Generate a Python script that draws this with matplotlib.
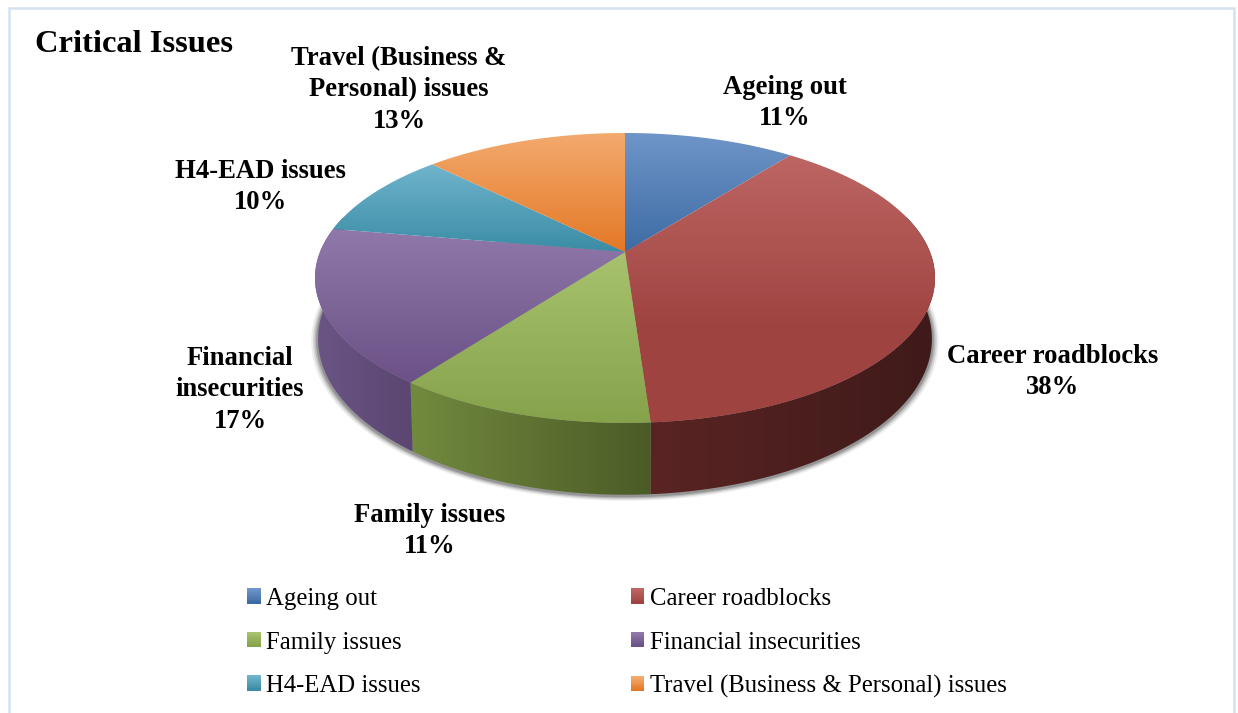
import matplotlib
matplotlib.use('Agg')
from matplotlib.legend_handler import HandlerBase
from matplotlib.patches import Patch, Polygon, Rectangle
import matplotlib.colors as mpcolors
import matplotlib.pyplot as plt
import numpy as np

plt.rcParams['font.family'] = ['Liberation Serif', 'DejaVu Serif']

title = 'Critical Issues'
categories = ['Ageing out', 'Career roadblocks', 'Family issues', 'Financial insecurities',
              'H4-EAD issues', 'Travel (Business & Personal) issues']
# estimated from the slice edges, the labels show them rounded
values = [10.6, 38.3, 11.4, 17.4, 9.7, 12.6]
slice_labels = ['Ageing out', 'Career roadblocks', 'Family issues', 'Financial\ninsecurities',
                'H4-EAD issues', 'Travel (Business &\nPersonal) issues']

# colors: top of the slice, bottom of the slice, side wall left, side wall right
top_light = ['#6f95c8', '#bd6663', '#a8c26e', '#9079aa', '#6fb4cc', '#f3aa6e']
top_dark = ['#3d6ca4', '#9f4341', '#86a24b', '#6b5186', '#3b8ca6', '#e47826']
side_start = ['#3a5578', '#5a2423', '#728a3e', '#6a5586', '#2f6f85', '#b5601f']
side_end = ['#2f4a6c', '#3f1a1a', '#4b5b27', '#5a4670', '#2a6577', '#a5561c']

label_pos = [(785, 103), (1053, 372), (430, 531), (240, 390), (260, 187), (399, 90)]

# projection of the tilted disc, in pixels
cx, cy = 625.0, 252.0
scale_x, scale_y = 305.0, 140.3
persp = 0.179
depth = 59.0


def project(angle, radius=1.0, drop=0.0, shrink=1.0):
    # angle in degrees, clockwise from 12 o'clock
    t = np.radians(angle)
    u, v = radius * np.sin(t), -radius * np.cos(t)
    w = 1 - persp * v
    return cx + shrink * scale_x * u / w, cy + scale_y * v / w + drop / w


def gradient_fill(ax, pts, c1, c2, horizontal=False, zorder=3, stop=1.0):
    patch = Polygon(pts, closed=True, transform=ax.transData, facecolor='none', edgecolor='none')
    ax.add_patch(patch)
    f = np.clip(np.linspace(0, 1, 256) / stop, 0, 1)[:, None]
    rgb = (1 - f) * np.array(mpcolors.to_rgb(c1)) + f * np.array(mpcolors.to_rgb(c2))
    img = rgb[None, :, :] if horizontal else rgb[:, None, :]
    x0, y0 = pts.min(axis=0)
    x1, y1 = pts.max(axis=0)
    im = ax.imshow(img, extent=(x0, x1, y1, y0), aspect='auto', zorder=zorder, interpolation='bilinear')
    im.set_clip_path(patch)


class GradientHandler(HandlerBase):
    def create_artists(self, legend, orig_handle, xdescent, ydescent, width, height, fontsize, trans):
        c1, c2 = orig_handle.get_gid().split(',')
        steps = 8
        artists = []
        for i in range(steps):
            f = i / (steps - 1)
            col = (1 - f) * np.array(mpcolors.to_rgb(c1)) + f * np.array(mpcolors.to_rgb(c2))
            artists.append(Rectangle((-xdescent, -ydescent + height * (1 - (i + 1) / steps)), width,
                                     height / steps + 0.3, facecolor=col, edgecolor='none', transform=trans))
        return artists


fig = plt.figure(figsize=(12.38, 7.13), dpi=100)
ax = fig.add_axes([0, 0, 1, 1])

# chart frame
ax.add_patch(Rectangle((9, 8), 1224.5, 800, facecolor='white', edgecolor='#d5e3f1', linewidth=1.8, zorder=0))

edges = np.concatenate([[0], np.cumsum(values)]) / np.sum(values) * 360.0

# soft shadow under the near rim
ring = np.linspace(60, 300, 200)
for grow, alpha in zip([1.022, 1.016, 1.011, 1.006], [0.08, 0.13, 0.18, 0.26]):
    xs, ys = project(ring, radius=grow, drop=depth + 1, shrink=0.99)
    ax.fill(xs, ys, color='#303030', alpha=alpha, lw=0, zorder=1)

# side wall, one piece per slice that faces the viewer
for i in range(len(values)):
    a0, a1 = max(edges[i], 75.0), min(edges[i + 1], 285.0)
    if a1 <= a0:
        continue
    ang = np.linspace(a0, a1, 100)
    xt, yt = project(ang)
    xb, yb = project(ang, drop=depth, shrink=0.99)
    pts = np.column_stack([np.r_[xt, xb[::-1]], np.r_[yt, yb[::-1]]])
    gradient_fill(ax, pts, side_start[i], side_end[i], horizontal=True, zorder=2)

# top face
for i in range(len(values)):
    ang = np.linspace(edges[i], edges[i + 1], 120)
    xs, ys = project(ang)
    pts = np.column_stack([np.r_[cx, xs], np.r_[cy, ys]])
    gradient_fill(ax, pts, top_light[i], top_dark[i], zorder=3, stop=0.65 if i == 1 else 1.0)

ax.set_xlim(0, 1238)
ax.set_ylim(713, 0)
ax.axis('off')

ax.text(35, 44, title, fontsize=23.4, fontweight='bold', ha='left', va='center', color='black', zorder=5)

for name, val, pos in zip(slice_labels, values, label_pos):
    ax.text(pos[0], pos[1], '{n:s}\n{v:.0f}%'.format(n=name, v=val), fontsize=19.2, fontweight='bold',
            ha='center', va='center', multialignment='center', linespacing=1.33, color='black', zorder=5)

handles = [Patch(gid='{a:s},{b:s}'.format(a=a, b=b)) for a, b in zip(top_light, top_dark)]
# legend reads row by row, matplotlib fills by column
order = [0, 2, 4, 1, 3, 5]
leg = ax.legend([handles[j] for j in order], [categories[j] for j in order], ncol=2,
                handler_map={Patch: GradientHandler()}, loc='upper left', bbox_to_anchor=(247 / 1238, 1 - 588 / 713),
                frameon=False, fontsize=17.8, handlelength=0.55, handleheight=0.55, handletextpad=0.22,
                labelspacing=0.87, columnspacing=8.5, borderpad=0, borderaxespad=0)

fig.savefig('out.png', dpi=100)
